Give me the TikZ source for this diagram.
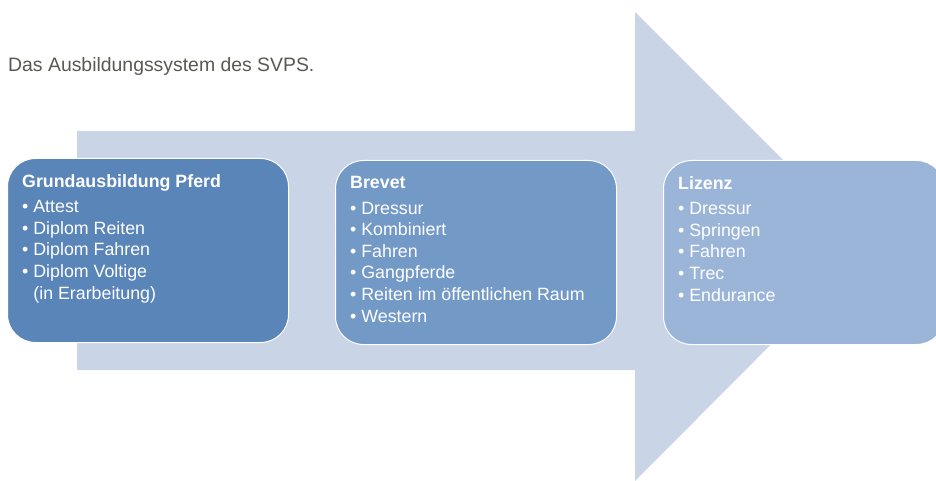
\documentclass[tikz,border=0pt]{standalone}
\usepackage{fontspec}
\setmainfont{Liberation Sans}
\usepackage{tikz}
\usetikzlibrary{positioning}
\definecolor{arrowfill}{HTML}{C9D5E6}
\definecolor{boxa}{HTML}{5A85B8}
\definecolor{boxb}{HTML}{7399C6}
\definecolor{boxc}{HTML}{9BB5D8}
\definecolor{captiongray}{HTML}{5A5852}
\tikzset{
  stage/.style ={draw=white, line width=1pt, rounded corners=28pt, minimum width=281pt, minimum height=184pt},
  items/.style ={text=white, align=left, inner sep=0pt, font=\fontsize{17.8}{21.6}\selectfont},
  caption/.style={text=captiongray, inner sep=0pt, font=\fontsize{19.4}{23}\selectfont}
}
\newcommand{\itm}{\textbullet\ }
\begin{document}
\begin{tikzpicture}[x=1pt,y=-1pt]
\useasboundingbox (0,0) rectangle (936,481);
% big arrow behind the stages
\fill[arrowfill] (77,131) -- (635,131) -- (635,12) -- (869,246)
  -- (635,481) -- (635,370) -- (77,370) -- cycle;
\node[caption, anchor=base west] (cap) at (8,72) {Das Ausbildungssystem des SVPS.};
% stages
\node[stage, fill=boxa, anchor=north west] (grund) at (7,158) {};
\node[stage, fill=boxb, anchor=north west] (brevet) at (335,160) {};
\node[stage, fill=boxc, anchor=north west] (lizenz) at (663,160) {};
\node[items, anchor=north west] (grundtxt) at ([xshift=15pt,yshift=-16pt]grund.north west)
  {\textbf{Grundausbildung Pferd}\\[4pt]
   \itm Attest\\ \itm Diplom Reiten\\ \itm Diplom Fahren\\ \itm Diplom Voltige\\
   \phantom{\itm}(in Erarbeitung)};
\node[items, anchor=north west] (brevettxt) at ([xshift=15pt,yshift=-16pt]brevet.north west)
  {\textbf{Brevet}\\[4pt]
   \itm Dressur\\ \itm Kombiniert\\ \itm Fahren\\ \itm Gangpferde\\
   \itm Reiten im öffentlichen Raum\\ \itm Western};
\node[items, anchor=north west] (lizenztxt) at ([xshift=15pt,yshift=-16pt]lizenz.north west)
  {\textbf{Lizenz}\\[4pt]
   \itm Dressur\\ \itm Springen\\ \itm Fahren\\ \itm Trec\\ \itm Endurance};
\end{tikzpicture}
\end{document}
